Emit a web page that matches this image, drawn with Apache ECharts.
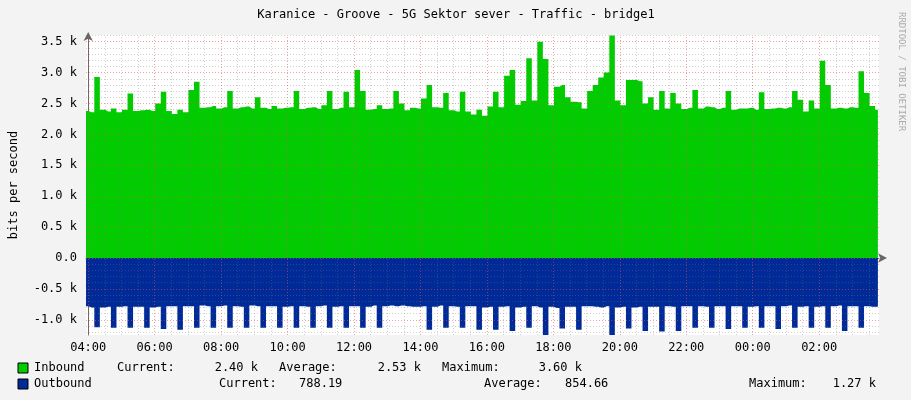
<!DOCTYPE html>
<html><head><meta charset="utf-8">
<script src="https://cdn.jsdelivr.net/npm/echarts@6/dist/echarts.min.js"></script>
<style>html,body{margin:0;padding:0;background:#f3f3f3}#c{width:911px;height:400px}</style>
</head><body><div id="c"></div>
<script>
// minutes after 04:00, sample start and step
const startMin = -4, stepMin = 10;
const inboundK = [
2.38,2.36,2.93,2.40,2.37,2.42,2.36,2.40,2.66,2.38,
2.39,2.40,2.38,2.50,2.69,2.38,2.33,2.40,2.36,2.72,
2.85,2.43,2.44,2.46,2.42,2.44,2.70,2.42,2.44,2.45,
2.42,2.60,2.43,2.41,2.46,2.42,2.43,2.44,2.70,2.41,
2.43,2.44,2.41,2.47,2.70,2.41,2.43,2.69,2.44,3.04,
2.70,2.40,2.41,2.47,2.41,2.42,2.70,2.50,2.39,2.43,
2.42,2.58,2.80,2.44,2.43,2.67,2.39,2.37,2.69,2.37,
2.32,2.40,2.30,2.45,2.69,2.44,2.95,3.04,2.48,2.54,
3.23,2.55,3.50,3.22,2.47,2.77,2.80,2.60,2.53,2.52,
2.42,2.70,2.80,2.92,3.00,3.60,2.55,2.47,2.88,2.88,
2.86,2.50,2.60,2.40,2.70,2.42,2.67,2.50,2.41,2.43,
2.72,2.42,2.45,2.44,2.41,2.43,2.70,2.40,2.42,2.42,
2.43,2.40,2.68,2.41,2.42,2.43,2.42,2.44,2.70,2.56,
2.37,2.55,2.42,3.19,2.80,2.42,2.43,2.42,2.44,2.43,
3.02,2.67,2.46,2.40];
const outboundK = [
-0.78,-0.80,-1.12, -0.80,-0.79,-1.13, -0.79,-0.78,-1.13, -0.79,-0.79,-1.13,
-0.80,-0.79,-1.15, -0.78,-0.78,-1.16, -0.78,-0.78,-1.13, -0.77,-0.78,-1.13,
-0.78,-0.77,-1.13, -0.78,-0.79,-1.13, -0.77,-0.78,-1.13, -0.78,-0.78,-1.13,
-0.79,-0.78,-1.13, -0.78,-0.79,-1.13, -0.78,-0.77,-1.13, -0.79,-0.78,-1.13,
-0.78,-0.78,-1.13, -0.79,-0.77,-1.13, -0.78,-0.77,-0.78, -0.77,-0.78,-0.79,
-0.79,-0.78,-1.16, -0.79,-0.77,-1.13, -0.78,-0.79,-1.13, -0.78,-0.78,-1.16,
-0.80,-0.79,-1.16, -0.79,-0.78,-1.18, -0.80,-0.79,-1.13, -0.78,-0.80,-1.25,
-0.79,-0.81,-1.14, -0.79,-0.79,-1.16, -0.78,-0.78,-0.79, -0.80,-0.78,-1.27,
-0.80,-0.79,-1.14, -0.80,-0.79,-1.18, -0.79,-0.79,-1.19, -0.78,-0.79,-1.18,
-0.78,-0.78,-1.13, -0.78,-0.79,-1.13, -0.78,-0.78,-1.15, -0.78,-0.78,-1.13,
-0.79,-0.78,-1.13, -0.78,-0.78,-1.15, -0.78,-0.77,-1.13, -0.79,-0.78,-1.13,
-0.79,-0.78,-1.13, -0.78,-0.77,-1.18, -0.78,-0.78,-1.13, -0.78,-0.79,-0.79];
const xTickMinutes = [0,120,240,360,480,600,720,840,960,1080,1200,1320];
const xTickLabels = ['04:00','06:00','08:00','10:00','12:00','14:00','16:00','18:00','20:00','22:00','00:00','02:00'];
const yTicks = [-1000,-500,0,500,1000,1500,2000,2500,3000,3500];
const yTickLabels = ['-1.0 k','-0.5 k','0.0','0.5 k','1.0 k','1.5 k','2.0 k','2.5 k','3.0 k','3.5 k'];
const title = 'Karanice - Groove - 5G Sektor sever - Traffic - bridge1';

const inbound = inboundK.map((v,i)=>[startMin+stepMin*i, v*1000]);
const outbound = outboundK.map((v,i)=>[startMin+stepMin*i, v*1000]);

const vLines = [];
for (let m=0; m<=1410; m+=30) vLines.push({xAxis:m, lineStyle:{color: m%120===0?'rgba(230,80,80,0.55)':'rgba(120,120,120,0.35)', type:[1,2], width:1}});
const hLines = [];
for (let v=-1200; v<=3600; v+=100) hLines.push({yAxis:v, lineStyle:{color: v%500===0?'rgba(230,80,80,0.55)':'rgba(120,120,120,0.35)', type:[1,2], width:1}});

const F = 'DejaVu Sans Mono';
const txt = (x,y,t,align)=>({type:'text',left:undefined,x:x,y:y,style:{text:t,font:'12px "'+F+'"',fill:'#000',align:align||'left',verticalAlign:'middle'}});

const chart = echarts.init(document.getElementById('c'));
chart.setOption({
  animation:false,
  backgroundColor:'#f3f3f3',
  grid:{left:81,right:32,top:35,bottom:65,show:true,backgroundColor:'#fff',borderWidth:0},
  xAxis:{type:'value',min:-4,max:1428,
    axisLine:{show:true,lineStyle:{color:'#666'},symbol:['none','arrow'],symbolSize:[7,9],symbolOffset:[0,8]},
    axisTick:{show:false},splitLine:{show:false},
    axisLabel:{customValues:xTickMinutes,formatter:v=>xTickLabels[xTickMinutes.indexOf(v)],color:'#000',fontFamily:F,fontSize:12,margin:7}},
  yAxis:{type:'value',min:-1246,max:3608,name:'bits per second',nameLocation:'middle',nameGap:66,
    nameTextStyle:{fontFamily:F,fontSize:12,color:'#000'},
    axisLine:{show:true,lineStyle:{color:'#666'},symbol:['none','arrow'],symbolSize:[7,9],symbolOffset:[0,3]},
    axisTick:{show:false},splitLine:{show:false},
    axisLabel:{customValues:yTicks,formatter:v=>yTickLabels[yTicks.indexOf(v)],color:'#000',fontFamily:F,fontSize:12,margin:9}},
  series:[
    {type:'line',data:inbound,step:'middle',symbol:'none',lineStyle:{width:0},areaStyle:{color:'#00cc00',opacity:1},z:2},
    {type:'line',data:outbound,step:'middle',symbol:'none',lineStyle:{width:0},areaStyle:{color:'#002a97',opacity:1},z:2},
    {type:'line',data:[],z:5,markLine:{silent:true,symbol:'none',label:{show:false},animation:false,data:vLines.concat(hLines)}}
  ],
  graphic:[
    {type:'text',x:456,y:15,style:{text:title,font:'12px "'+F+'"',fill:'#000',align:'center',verticalAlign:'middle'}},
    {type:'text',x:901,y:12,rotation:-Math.PI/2,style:{text:'RRDTOOL / TOBI OETIKER',font:'9px "'+F+'"',fill:'#aaa',align:'left',verticalAlign:'middle'}},
    {type:'rect',shape:{x:18,y:363,width:10,height:10},style:{fill:'#00cc00',stroke:'#000',lineWidth:1}},
    {type:'rect',shape:{x:18,y:379,width:10,height:10},style:{fill:'#002a97',stroke:'#000',lineWidth:1}},
    txt(34,368,'Inbound'), txt(117,368,'Current:'), txt(258,368,'2.40 k','right'),
    txt(279,368,'Average:'), txt(421,368,'2.53 k','right'), txt(442,368,'Maximum:'), txt(582,368,'3.60 k','right'),
    txt(34,384,'Outbound'), txt(219,384,'Current:'), txt(299,384,'788.19'),
    txt(484,384,'Average:'), txt(565,384,'854.66'), txt(749,384,'Maximum:'), txt(876,384,'1.27 k','right')
  ]
});
</script></body></html>
